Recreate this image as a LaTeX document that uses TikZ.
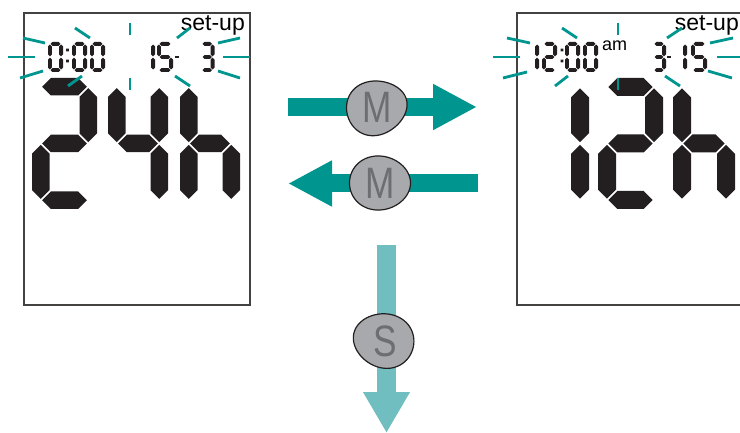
\documentclass[tikz,border=0pt]{standalone}
\usepackage{fontspec}
\setmainfont{Liberation Sans}
\newfontfamily\keyfont[FakeStretch=0.8]{Liberation Sans}
\usetikzlibrary{arrows.meta}

\definecolor{lcdink}{HTML}{231F20}
\definecolor{blink}{HTML}{00968F}
\definecolor{paleteal}{HTML}{70BEBF}
\definecolor{keygray}{HTML}{A7A9AC}
\definecolor{keytext}{HTML}{6D6E71}

\tikzset{
  lcd/.style={fill=lcdink},
  panel/.style={draw=lcdink!85, line width=2pt},
  ray/.style={draw=blink, line width=2.8pt},
  mbar/.style={draw=blink, line width=18pt, -{Triangle[length=44pt,width=43pt]}},
  sbar/.style={draw=paleteal, line width=19pt, -{Triangle[length=41pt,width=44pt]}},
  keyblob/.style={fill=keygray, draw=lcdink, line width=1.2pt},
  keylabel/.style={text=keytext, font=\keyfont\fontsize{44}{44}\selectfont, inner sep=0pt},
}

% seven segment pieces, hexagons of thickness \sT
\newcommand{\hseg}[3]{\fill[lcd] ({#1},{#3}) -- ({#1+\sT/2},{#3-\sT/2}) -- ({#2-\sT/2},{#3-\sT/2})
  -- ({#2},{#3}) -- ({#2-\sT/2},{#3+\sT/2}) -- ({#1+\sT/2},{#3+\sT/2}) -- cycle;}
\newcommand{\vseg}[3]{\fill[lcd] ({#1},{#2}) -- ({#1+\sT/2},{#2+\sT/2}) -- ({#1+\sT/2},{#3-\sT/2})
  -- ({#1},{#3}) -- ({#1-\sT/2},{#3-\sT/2}) -- ({#1-\sT/2},{#2+\sT/2}) -- cycle;}
\newcommand{\lcdsega}{\hseg{\xL+\sG}{\xR-\sG}{\yT}}
\newcommand{\lcdsegb}{\vseg{\xR}{\yT+\sG}{\yM-\sG}}
\newcommand{\lcdsegc}{\vseg{\xR}{\yM+\sG}{\yB-\sG}}
\newcommand{\lcdsegd}{\hseg{\xL+\sG}{\xR-\sG}{\yB}}
\newcommand{\lcdsege}{\vseg{\xL}{\yM+\sG}{\yB-\sG}}
\newcommand{\lcdsegf}{\vseg{\xL}{\yT+\sG}{\yM-\sG}}
\newcommand{\lcdsegg}{\hseg{\xL+\sG}{\xR-\sG}{\yM}}
% x, y, width, height, thickness, segments
\newcommand{\lcddigit}[6]{%
  \pgfmathsetmacro\sT{#5}%
  \pgfmathsetmacro\sG{0.06*#5+0.4}%
  \pgfmathsetmacro\xL{#1+#5/2}%
  \pgfmathsetmacro\xR{#1+#3-#5/2}%
  \pgfmathsetmacro\yT{#2+#5/2}%
  \pgfmathsetmacro\yM{#2+#4/2}%
  \pgfmathsetmacro\yB{#2+#4-#5/2}%
  \foreach \s in {#6}{\csname lcdseg\s\endcsname}%
}
\newcommand{\lcdcolon}[1]{\fill[lcd] (#1-1.4,48.6) rectangle ++(2.8,2.8) (#1-1.4,59.6) rectangle ++(2.8,2.8);}
\newcommand{\lcddash}[1]{\fill[lcd] (#1-2,55.6) rectangle ++(4,2.8);}
% egg shaped key: squeeze, turn
\newcommand{\keyshape}[2]{\draw[keyblob, rotate=#2] plot[domain=0:360, samples=90, smooth cycle]
  ({30.5*cos(\x)}, {27*sin(\x)*(1-#1*cos(\x))});}

\begin{document}
\begin{tikzpicture}[x=1pt, y=-1pt]
\useasboundingbox (0,0) rectangle (740,433);
\clip (0,0) rectangle (740,433);

% the two displays
\draw[panel] (24,13) rectangle (250,305);
\draw[panel] (517,13) rectangle (760,305);

\node[anchor=base east, font=\fontsize{23}{23}\selectfont, inner sep=0pt] (modeL) at (245,30.5) {set-up};
\node[anchor=base east, font=\fontsize{23}{23}\selectfont, inner sep=0pt] (modeR) at (739,30.5) {set-up};
\node[anchor=base west, font=\fontsize{18}{18}\selectfont, inner sep=0pt] (ampm) at (602,50.5) {am};

% 24h display
\lcddigit{48}{42}{15}{30}{3.8}{a,b,c,d,e,f}
\lcdcolon{67.5}
\lcddigit{72}{42}{15}{30}{3.8}{a,b,c,d,e,f}
\lcddigit{90}{42}{15}{30}{3.8}{a,b,c,d,e,f}
\lcddigit{140}{42}{15}{30}{3.8}{b,c}
\lcddigit{157}{42}{16}{30}{3.8}{a,f,g,c,d}
\lcddash{177}
\lcddigit{200}{42}{14.5}{30}{3.8}{a,b,g,c,d}
\lcddigit{32}{78}{65}{131}{17.5}{a,b,g,e,d}
\lcddigit{108}{78}{60}{131}{17.5}{f,b,g,c}
\lcddigit{180}{78}{60}{131}{17.5}{f,e,g,c}

% 12h display
\lcddigit{524}{42}{15}{30}{3.8}{b,c}
\lcddigit{542}{42}{15}{30}{3.8}{a,b,g,e,d}
\lcdcolon{562}
\lcddigit{565}{42}{15}{30}{3.8}{a,b,c,d,e,f}
\lcddigit{583}{42}{15}{30}{3.8}{a,b,c,d,e,f}
\lcddigit{652}{42}{14}{30}{3.8}{a,b,g,c,d}
\lcddash{669}
\lcddigit{672}{42}{15}{30}{3.8}{b,c}
\lcddigit{691}{42}{16}{30}{3.8}{a,f,g,c,d}
\lcddigit{529}{78}{60}{131}{18}{b,c}
\lcddigit{598}{78}{65}{131}{18}{a,b,g,e,d}
\lcddigit{673}{78}{62}{131}{18}{f,e,g,c}

% blinking marks
\foreach \ax/\ay/\bx/\by in {8/57/35/57, 23/38/45/43, 20/78/43/71, 75/28/90/38, 68/86/82/76,
    130/23/130/35, 130/78/130/90, 177/38/190/28, 175/76/190/86, 218/43/240/38, 223/57/250/57,
    218/71/240/78}
  \draw[ray] (\ax,\ay) -- (\bx,\by);
\foreach \ax/\ay/\bx/\by in {493/57/520/57, 507/38/530/43, 503/78/527/72, 562/28/577/38,
    555/86/568/76, 618/23/618/35, 618/78/618/90, 667/38/682/28, 665/76/680/86,
    710/43/733/38, 717/57/742/57, 708/71/732/78}
  \draw[ray] (\ax,\ay) -- (\bx,\by);

% key arrows
\coordinate (fwdA) at (288,107);
\coordinate (fwdB) at (477,107);
\coordinate (backA) at (478,183.5);
\coordinate (backB) at (288,183.5);
\coordinate (setA) at (386.5,245);
\coordinate (setB) at (386.5,433);
\draw[mbar] (fwdA) -- (fwdB);
\draw[mbar] (backA) -- (backB);
\draw[sbar] (setA) -- (setB);

% keys
\begin{scope}[shift={(377,107.5)}]
  \keyshape{0.12}{15}
  \node[keylabel] (keyM1) at (0,0) {M};
\end{scope}
\begin{scope}[shift={(380,183)}]
  \keyshape{0.06}{0}
  \node[keylabel] (keyM2) at (0,0) {M};
\end{scope}
\begin{scope}[shift={(383.5,340.5)}]
  \keyshape{0.08}{165}
  \node[keylabel] (keyS) at (1.5,1) {S};
\end{scope}
\end{tikzpicture}
\end{document}
